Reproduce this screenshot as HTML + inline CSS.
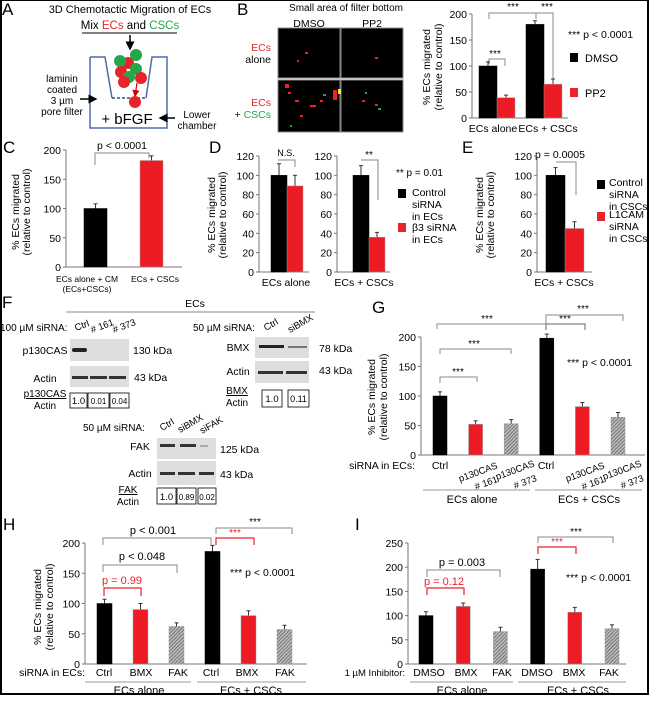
<!DOCTYPE html>
<html><head><meta charset="utf-8">
<style>
html,body{margin:0;padding:0;background:#fff;}
svg{display:block;font-family:"Liberation Sans",Arial,sans-serif;}
</style></head>
<body>
<svg id="fig" width="650" height="707" viewBox="0 0 650 707">
<defs>
<pattern id="hatch" width="2.5" height="2.5" patternUnits="userSpaceOnUse" patternTransform="rotate(45)">
<rect width="2.5" height="2.5" fill="#bbb"/><line x1="0" y1="0" x2="0" y2="2.5" stroke="#555" stroke-width="1.3"/>
</pattern>
<marker id="ah" markerWidth="6" markerHeight="6" refX="5" refY="3" orient="auto"><path d="M0,0 L6,3 L0,6 z" fill="#000"/></marker>
<marker id="ahr" markerWidth="6" markerHeight="6" refX="5" refY="3" orient="auto"><path d="M0,0 L6,3 L0,6 z" fill="#c00"/></marker>
</defs>
<rect x="1" y="0" width="647" height="694" fill="none" stroke="#000" stroke-width="2"/>

<!-- Panel A -->
<g font-size="11">
<text x="2" y="15" font-size="17">A</text>
<text x="130" y="13" text-anchor="middle" font-size="11">3D Chemotactic Migration of ECs</text>
<text x="130" y="29" text-anchor="middle" font-size="11.5">Mix <tspan fill="#e8232a">ECs</tspan> and <tspan fill="#22a84a">CSCs</tspan></text>
<line x1="82" y1="33" x2="177" y2="33" stroke="#000"/>
<line x1="130" y1="35" x2="130" y2="49" stroke="#000" stroke-width="1.5" marker-end="url(#ah)"/>
<path d="M90,57 L90,128 L167,128 L167,57 L152,57 L146,98 M112,98 L105,57 L90,57" fill="none" stroke="#4a6fa5" stroke-width="1.5"/>
<line x1="112" y1="98" x2="146" y2="98" stroke="#2a4f95" stroke-width="1.5" stroke-dasharray="3,2"/>
<circle cx="136" cy="55" r="6" fill="#22a84a"/><circle cx="128" cy="63" r="6" fill="#e8232a"/>
<circle cx="120" cy="61" r="6" fill="#22a84a"/><circle cx="136" cy="69" r="6" fill="#22a84a"/>
<circle cx="121" cy="72" r="6" fill="#e8232a"/><circle cx="129" cy="77" r="6" fill="#22a84a"/>
<circle cx="141" cy="78" r="6" fill="#e8232a"/><circle cx="124" cy="82" r="6" fill="#e8232a"/>
<line x1="137" y1="83" x2="135" y2="96" stroke="#c00" stroke-width="1.2" marker-end="url(#ahr)"/>
<circle cx="135" cy="102" r="6" fill="#e8232a"/>
<text x="62" y="82" text-anchor="middle" font-size="10">laminin</text>
<text x="62" y="93" text-anchor="middle" font-size="10">coated</text>
<text x="62" y="104" text-anchor="middle" font-size="10">3 µm</text>
<text x="62" y="115" text-anchor="middle" font-size="10">pore filter</text>
<line x1="80" y1="99" x2="96" y2="99" stroke="#000" stroke-width="1.5" marker-end="url(#ah)"/>
<text x="127" y="124" text-anchor="middle" font-size="15">+ bFGF</text>
<text x="197" y="118" text-anchor="middle" font-size="10">Lower</text>
<text x="197" y="129" text-anchor="middle" font-size="10">chamber</text>
<line x1="175" y1="118" x2="160" y2="118" stroke="#000" stroke-width="1.5" marker-end="url(#ah)"/>
</g>

<!-- Panel B images -->
<g>
<text x="237" y="15" font-size="17">B</text>
<text x="346" y="11" text-anchor="middle" font-size="10">Small area of filter bottom</text>
<text x="309" y="27" text-anchor="middle" font-size="10.5">DMSO</text>
<text x="372" y="27" text-anchor="middle" font-size="10.5">PP2</text>
<text x="271" y="51" text-anchor="end" font-size="10.5" fill="#e8232a">ECs</text>
<text x="271" y="63" text-anchor="end" font-size="10.5">alone</text>
<text x="271" y="106" text-anchor="end" font-size="10.5" fill="#e8232a">ECs</text>
<text x="271" y="118" text-anchor="end" font-size="10.5">+ <tspan fill="#22a84a">CSCs</tspan></text>
<rect x="278" y="28" width="62" height="50" fill="#000" stroke="#888"/>
<rect x="341" y="28" width="62" height="50" fill="#000" stroke="#888"/>
<rect x="278" y="80" width="62" height="52" fill="#000" stroke="#888"/>
<rect x="341" y="80" width="62" height="52" fill="#000" stroke="#888"/>
<g fill="#e8232a"><rect x="305" y="52" width="3" height="2"/><rect x="297" y="60" width="2" height="2"/><rect x="375" y="57" width="3" height="2"/>
<rect x="288" y="92" width="3" height="2"/><rect x="295" y="100" width="4" height="2"/><rect x="310" y="105" width="6" height="2"/><rect x="300" y="115" width="3" height="2"/><rect x="285" y="84" width="4" height="4"/><rect x="333" y="90" width="4" height="10"/><rect x="320" y="100" width="3" height="2"/><rect x="362" y="100" width="3" height="2"/><rect x="375" y="104" width="3" height="2"/></g>
<g fill="#22a84a"><rect x="290" y="125" width="2" height="2"/><rect x="323" y="94" width="3" height="2"/><rect x="365" y="92" width="2" height="2"/><rect x="378" y="108" width="3" height="2"/><rect x="338" y="89" width="3" height="5" fill="#ee3"/></g>
</g>

<!-- Panel B chart text -->
<g font-size="11">
<text x="430" y="67" transform="rotate(-90 430 67)" text-anchor="middle" font-size="10.5">% ECs migrated</text>
<text x="442" y="67" transform="rotate(-90 442 67)" text-anchor="middle" font-size="10.5">(relative to control)</text>
<text x="493" y="132" text-anchor="middle" font-size="10.5">ECs alone</text>
<text x="548" y="132" text-anchor="middle" font-size="10.5">ECs + CSCs</text>
<text x="568" y="38" font-size="10.5">*** p &lt; 0.0001</text>
<rect x="570" y="53" width="8" height="9" fill="#000"/>
<text x="585" y="62" font-size="11">DMSO</text>
<rect x="570" y="88" width="8" height="9" fill="#e8232a"/>
<text x="585" y="97" font-size="11">PP2</text>
<path d="M489,19 V13 H536 V19" fill="none" stroke="#888"/><text x="513" y="10" text-anchor="middle" font-size="10">***</text>
<path d="M536,13 H553 V80" fill="none" stroke="#888"/><text x="547" y="10" text-anchor="middle" font-size="10">***</text>
<path d="M489,64 V59 H505 V66" fill="none" stroke="#888"/><text x="495" y="57" text-anchor="middle" font-size="10">***</text>
</g>

<!-- Panel C -->
<g font-size="10">
<text x="3" y="153" font-size="17">C</text>
<text x="19" y="212" transform="rotate(-90 19 212)" text-anchor="middle" font-size="10.5">% ECs migrated</text>
<text x="30" y="212" transform="rotate(-90 30 212)" text-anchor="middle" font-size="10.5">(relative to control)</text>
<text x="122" y="149" text-anchor="middle" font-size="10.5">p &lt; 0.0001</text>
<path d="M95,165 V153 H149 V158" fill="none" stroke="#888"/>
<text x="87" y="282" text-anchor="middle" font-size="8.5">ECs alone + CM</text>
<text x="87" y="292" text-anchor="middle" font-size="8.5">(ECs+CSCs)</text>
<text x="155" y="282" text-anchor="middle" font-size="8.5">ECs + CSCs</text>
</g>

<!-- Panel D -->
<g font-size="10">
<text x="209" y="153" font-size="17">D</text>
<text x="215" y="215" transform="rotate(-90 215 215)" text-anchor="middle" font-size="10.5">% ECs migrated</text>
<text x="226" y="215" transform="rotate(-90 226 215)" text-anchor="middle" font-size="10.5">(relative to control)</text>
<text x="286" y="156" text-anchor="middle" font-size="9">N.S.</text>
<path d="M278,160 H295 V167" fill="none" stroke="#888"/>
<text x="369" y="158" text-anchor="middle" font-size="10">**</text>
<path d="M361,160 H378 V200" fill="none" stroke="#888"/>
<text x="286" y="286" text-anchor="middle" font-size="10.5">ECs alone</text>
<text x="364" y="286" text-anchor="middle" font-size="10.5">ECs + CSCs</text>
<text x="396" y="176" font-size="10">** p = 0.01</text>
<rect x="398" y="189" width="8" height="9" fill="#000"/>
<text x="412" y="196" font-size="10.5">Control</text><text x="412" y="208" font-size="10.5">siRNA</text><text x="412" y="220" font-size="10.5">in ECs</text>
<rect x="398" y="223" width="8" height="9" fill="#e8232a"/>
<text x="412" y="231" font-size="10.5">β3 siRNA</text><text x="412" y="243" font-size="10.5">in ECs</text>
</g>

<!-- Panel E -->
<g font-size="10">
<text x="462" y="153" font-size="17">E</text>
<text x="483" y="215" transform="rotate(-90 483 215)" text-anchor="middle" font-size="10.5">% ECs migrated</text>
<text x="494" y="215" transform="rotate(-90 494 215)" text-anchor="middle" font-size="10.5">(relative to control)</text>
<text x="560" y="158" text-anchor="middle" font-size="10.5">p = 0.0005</text>
<path d="M556,162 H576 V195" fill="none" stroke="#888"/>
<text x="564" y="286" text-anchor="middle" font-size="10.5">ECs + CSCs</text>
<rect x="597" y="180" width="8" height="9" fill="#000"/>
<text x="609" y="186" font-size="10.5">Control</text><text x="609" y="198" font-size="10.5">siRNA</text><text x="609" y="210" font-size="10.5">in CSCs</text>
<rect x="597" y="212" width="8" height="9" fill="#e8232a"/>
<text x="609" y="218" font-size="10.5">L1CAM</text><text x="609" y="230" font-size="10.5">siRNA</text><text x="609" y="242" font-size="10.5">in CSCs</text>
</g>

<!-- Panel F blots -->
<g font-size="10">
<text x="2" y="308" font-size="17">F</text>
<text x="195" y="307" text-anchor="middle" font-size="10.5">ECs</text>
<line x1="66" y1="312" x2="315" y2="312" stroke="#888"/>
<text x="0" y="331" font-size="10">100 µM siRNA:</text>
<text x="76" y="331" font-size="9.5" transform="rotate(-20 76 331)">Ctrl</text>
<text x="92" y="333" font-size="9.5" transform="rotate(-20 92 333)"># 161</text>
<text x="114" y="333" font-size="9.5" transform="rotate(-20 114 333)"># 373</text>
<rect x="70" y="339" width="59" height="22" fill="#dedede"/>
<rect x="72" y="348" width="15" height="4" fill="#222" rx="2"/>
<text x="45" y="354" text-anchor="middle" font-size="10.5">p130CAS</text><text x="133" y="354" font-size="10.5">130 kDa</text>
<rect x="70" y="366" width="59" height="21" fill="#dedede"/>
<rect x="72" y="376" width="16" height="3" fill="#333"/><rect x="90" y="376" width="17" height="3" fill="#333"/><rect x="109" y="376" width="17" height="3" fill="#333"/>
<text x="45" y="382" text-anchor="middle" font-size="10.5">Actin</text><text x="134" y="381" font-size="10.5">43 kDa</text>
<text x="45" y="397" text-anchor="middle" font-size="10" text-decoration="underline">p130CAS</text><text x="45" y="409" text-anchor="middle" font-size="10">Actin</text>
<rect x="70" y="393" width="17" height="15" fill="none" stroke="#000" stroke-width="0.8"/><text x="78.5" y="404" text-anchor="middle" font-size="9.5">1.0</text>
<rect x="88" y="393" width="21" height="15" fill="none" stroke="#000" stroke-width="0.8"/><text x="98.5" y="404" text-anchor="middle" font-size="8">0.01</text>
<rect x="110" y="393" width="19" height="15" fill="none" stroke="#000" stroke-width="0.8"/><text x="119.5" y="404" text-anchor="middle" font-size="8">0.04</text>

<text x="193" y="331" font-size="10">50 µM siRNA:</text>
<text x="266" y="331" font-size="9.5" transform="rotate(-30 266 331)">Ctrl</text>
<text x="290" y="333" font-size="9.5" transform="rotate(-30 290 333)">siBMX</text>
<rect x="255" y="337" width="54" height="21" fill="#dedede"/>
<rect x="259" y="345" width="25" height="3" fill="#222"/><rect x="288" y="346" width="19" height="2" fill="#777"/>
<text x="238" y="351" text-anchor="middle" font-size="10.5">BMX</text><text x="319" y="352" font-size="10.5">78 kDa</text>
<rect x="255" y="361" width="54" height="22" fill="#dedede"/>
<rect x="258" y="371" width="25" height="3" fill="#333"/><rect x="286" y="371" width="21" height="3" fill="#333"/>
<text x="238" y="375" text-anchor="middle" font-size="10.5">Actin</text><text x="319" y="374" font-size="10.5">43 kDa</text>
<text x="237" y="394" text-anchor="middle" font-size="10" text-decoration="underline">BMX</text><text x="237" y="406" text-anchor="middle" font-size="10">Actin</text>
<rect x="262" y="390" width="20" height="17" fill="none" stroke="#000" stroke-width="0.8"/><text x="272" y="402" text-anchor="middle" font-size="9.5">1.0</text>
<rect x="288" y="390" width="21" height="17" fill="none" stroke="#000" stroke-width="0.8"/><text x="298.5" y="402" text-anchor="middle" font-size="9">0.11</text>

<text x="83" y="431" font-size="10">50 µM siRNA:</text>
<text x="162" y="431" font-size="9.5" transform="rotate(-30 162 431)">Ctrl</text>
<text x="180" y="433" font-size="9.5" transform="rotate(-30 180 433)">siBMX</text>
<text x="202" y="434" font-size="9.5" transform="rotate(-30 202 434)">siFAK</text>
<rect x="157" y="438" width="59" height="21" fill="#dedede"/>
<rect x="160" y="444" width="15" height="3" fill="#333"/><rect x="180" y="444" width="16" height="3" fill="#333"/><rect x="200" y="445" width="8" height="2" fill="#aaa"/>
<text x="140" y="450" text-anchor="middle" font-size="10.5">FAK</text><text x="220" y="453" font-size="10.5">125 kDa</text>
<rect x="157" y="461" width="59" height="24" fill="#dedede"/>
<rect x="160" y="472" width="15" height="3" fill="#333"/><rect x="178" y="472" width="17" height="3" fill="#333"/><rect x="199" y="472" width="15" height="3" fill="#333"/>
<text x="140" y="477" text-anchor="middle" font-size="10.5">Actin</text><text x="220" y="478" font-size="10.5">43 kDa</text>
<text x="128" y="493" text-anchor="middle" font-size="10" text-decoration="underline">FAK</text><text x="128" y="505" text-anchor="middle" font-size="10">Actin</text>
<rect x="157" y="488" width="19" height="16" fill="none" stroke="#000" stroke-width="0.8"/><text x="166.5" y="500" text-anchor="middle" font-size="9.5">1.0</text>
<rect x="177" y="488" width="19" height="16" fill="none" stroke="#000" stroke-width="0.8"/><text x="186.5" y="500" text-anchor="middle" font-size="8">0.89</text>
<rect x="198" y="488" width="18" height="16" fill="none" stroke="#000" stroke-width="0.8"/><text x="207" y="500" text-anchor="middle" font-size="8">0.02</text>
</g>

<!-- Panel G annotations -->
<g font-size="10">
<text x="372" y="313" font-size="17">G</text>
<text x="375" y="397" transform="rotate(-90 375 397)" text-anchor="middle" font-size="10.5">% ECs migrated</text>
<text x="387" y="397" transform="rotate(-90 387 397)" text-anchor="middle" font-size="10.5">(relative to control)</text>
<text x="567" y="366" font-size="10.5">*** p &lt; 0.0001</text>
<path d="M440,383 V377 H477 V382" fill="none" stroke="#888"/><text x="458" y="375" text-anchor="middle">***</text>
<path d="M440,354 V349 H511 V354" fill="none" stroke="#888"/><text x="474" y="347" text-anchor="middle">***</text>
<path d="M437,329 V324 H546 V330" fill="none" stroke="#888"/><text x="487" y="322" text-anchor="middle">***</text>
<path d="M546,330 V324 H585 V330" fill="none" stroke="#666"/><text x="565" y="322" text-anchor="middle">***</text>
<path d="M546,324 V315 H623 V321" fill="none" stroke="#888"/><text x="583" y="312" text-anchor="middle">***</text>
<text x="415" y="469" text-anchor="end" font-size="10.5">siRNA in ECs:</text>
<text x="440" y="469" text-anchor="middle" font-size="10.5">Ctrl</text>
<text x="546" y="469" text-anchor="middle" font-size="10.5">Ctrl</text>
<text x="460" y="482" font-size="9.5" transform="rotate(-20 460 482)">p130CAS</text>
<text x="476" y="490" font-size="9.5" transform="rotate(-20 476 490)"># 161</text>
<text x="497" y="480" font-size="9.5" transform="rotate(-20 497 480)">p130CAS</text>
<text x="515" y="489" font-size="9.5" transform="rotate(-20 515 489)"># 373</text>
<text x="567" y="482" font-size="9.5" transform="rotate(-20 567 482)">p130CAS</text>
<text x="583" y="490" font-size="9.5" transform="rotate(-20 583 490)"># 161</text>
<text x="604" y="480" font-size="9.5" transform="rotate(-20 604 480)">p130CAS</text>
<text x="622" y="489" font-size="9.5" transform="rotate(-20 622 489)"># 373</text>
<line x1="423" y1="490" x2="530" y2="490" stroke="#999"/><line x1="535" y1="490" x2="642" y2="490" stroke="#999"/>
<text x="472" y="503" text-anchor="middle" font-size="11">ECs alone</text>
<text x="589" y="503" text-anchor="middle" font-size="11">ECs + CSCs</text>
</g>

<!-- Panel H annotations -->
<g font-size="10">
<text x="3" y="530" font-size="17">H</text>
<text x="41" y="607" transform="rotate(-90 41 607)" text-anchor="middle" font-size="10.5">% ECs migrated</text>
<text x="53" y="607" transform="rotate(-90 53 607)" text-anchor="middle" font-size="10.5">(relative to control)</text>
<text x="122" y="584" text-anchor="middle" font-size="11" fill="#e8232a">p = 0.99</text>
<path d="M104,596 V588 H141 V596" fill="none" stroke="#e8232a" stroke-width="1.2"/>
<text x="142" y="560" text-anchor="middle" font-size="11">p &lt; 0.048</text>
<path d="M103,572 V565 H177 V573" fill="none" stroke="#888"/>
<text x="153" y="534" text-anchor="middle" font-size="11">p &lt; 0.001</text>
<path d="M103,545 V538 H211 V545" fill="none" stroke="#888"/>
<text x="235" y="536" text-anchor="middle" fill="#e8232a">***</text>
<path d="M216,545 V538 H254 V545" fill="none" stroke="#e8232a" stroke-width="1.2"/>
<text x="255" y="525" text-anchor="middle">***</text>
<path d="M216,534 V528 H292 V534" fill="none" stroke="#888"/>
<text x="230" y="576" font-size="10.5">*** p &lt; 0.0001</text>
<text x="85" y="676" text-anchor="end" font-size="10.5">siRNA in ECs:</text>
<text x="104" y="676" text-anchor="middle" font-size="10.5">Ctrl</text>
<text x="141" y="676" text-anchor="middle" font-size="10.5">BMX</text>
<text x="178" y="676" text-anchor="middle" font-size="10.5">FAK</text>
<text x="211" y="676" text-anchor="middle" font-size="10.5">Ctrl</text>
<text x="247" y="676" text-anchor="middle" font-size="10.5">BMX</text>
<text x="285" y="676" text-anchor="middle" font-size="10.5">FAK</text>
<line x1="85" y1="682" x2="191" y2="682" stroke="#999"/><line x1="197" y1="682" x2="306" y2="682" stroke="#999"/>
<text x="139" y="694" text-anchor="middle" font-size="11">ECs alone</text>
<text x="251" y="694" text-anchor="middle" font-size="11">ECs + CSCs</text>
</g>

<!-- Panel I annotations -->
<g font-size="10">
<text x="355" y="530" font-size="17">I</text>
<text x="444" y="585" text-anchor="middle" font-size="11" fill="#e8232a">p = 0.12</text>
<path d="M427,595 V588 H464 V595" fill="none" stroke="#e8232a" stroke-width="1.2"/>
<text x="462" y="566" text-anchor="middle" font-size="11">p = 0.003</text>
<path d="M427,577 V570 H500 V577" fill="none" stroke="#888"/>
<text x="557" y="545" text-anchor="middle" fill="#e8232a">***</text>
<path d="M538,554 V547 H576 V554" fill="none" stroke="#e8232a" stroke-width="1.2"/>
<text x="576" y="535" text-anchor="middle">***</text>
<path d="M538,543 V537 H613 V543" fill="none" stroke="#888"/>
<text x="566" y="581" font-size="10.5">*** p &lt; 0.0001</text>
<text x="405" y="676" text-anchor="end" font-size="9.5">1 µM Inhibitor:</text>
<text x="429" y="676" text-anchor="middle" font-size="10.5">DMSO</text>
<text x="466" y="676" text-anchor="middle" font-size="10.5">BMX</text>
<text x="502" y="676" text-anchor="middle" font-size="10.5">FAK</text>
<text x="537" y="676" text-anchor="middle" font-size="10.5">DMSO</text>
<text x="574" y="676" text-anchor="middle" font-size="10.5">BMX</text>
<text x="609" y="676" text-anchor="middle" font-size="10.5">FAK</text>
<line x1="410" y1="682" x2="513" y2="682" stroke="#999"/><line x1="518" y1="682" x2="626" y2="682" stroke="#999"/>
<text x="462" y="694" text-anchor="middle" font-size="11">ECs alone</text>
<text x="578" y="694" text-anchor="middle" font-size="11">ECs + CSCs</text>
</g>
</svg>

<script>
// ---- data ----
const B_values = [100, 39, 180, 65];
const B_errors = [8, 5, 7, 10];
const B_ticks = [0, 50, 100, 150, 200];
const C_values = [100, 182];
const C_errors = [8, 8];
const C_ticks = [0, 50, 100, 150, 200];
const D1_values = [100, 89];
const D1_errors = [12, 11];
const D2_values = [100, 36];
const D2_errors = [10, 5];
const D_ticks = [0, 20, 40, 60, 80, 100, 120];
const E_values = [100, 45];
const E_errors = [8, 7];
const G_values = [100, 52, 53, 198, 82, 64];
const G_errors = [7, 6, 7, 7, 7, 8];
const G_ticks = [0, 50, 100, 150, 200];
const H_values = [100, 90, 62, 186, 80, 57];
const H_errors = [7, 10, 6, 10, 8, 7];
const H_ticks = [0, 50, 100, 150, 200];
const I_values = [100, 119, 67, 196, 107, 73];
const I_errors = [8, 7, 9, 20, 10, 8];
const I_ticks = [0, 50, 100, 150, 200, 250];

const NS = 'http://www.w3.org/2000/svg';
const svg = document.getElementById('fig');
const RED = '#ed1c24';
function mk(tag, attrs, parent) {
  const e = document.createElementNS(NS, tag);
  for (const k in attrs) e.setAttribute(k, attrs[k]);
  parent.appendChild(e);
  return e;
}

function chart(name, values, errors, ticks, cfg) {
  const g = mk('g', {}, svg);
  
  
  const vmax = ticks[ticks.length - 1];
  const y = v => cfg.y0 - v / vmax * (cfg.y0 - cfg.yTop);
  const ax = mk('line', {x1: cfg.ax, y1: y(vmax), x2: cfg.ax, y2: cfg.y0, stroke: '#777'}, g);
  
  
  const xa = mk('line', {x1: cfg.ax, y1: cfg.y0, x2: cfg.xEnd, y2: cfg.y0, stroke: '#777'}, g);
  
  
  ticks.forEach(t => {
    mk('line', {x1: cfg.ax - 3, y1: y(t), x2: cfg.ax, y2: y(t), stroke: '#777'}, g);
    const tl = mk('text', {x: cfg.ax - 5, y: y(t) + 4, 'text-anchor': 'end', 'font-size': 10.5}, g);
    tl.textContent = t;
    
    
  });
  values.forEach((v, i) => {
    const x = cfg.xOf(i);
    const cx = x + cfg.w / 2;
    const top = y(v + errors[i]);
    mk('line', {x1: cx, y1: y(v), x2: cx, y2: top, stroke: '#333', 'stroke-width': 1}, g);
    mk('line', {x1: cx - 2, y1: top, x2: cx + 2, y2: top, stroke: '#333', 'stroke-width': 1}, g);
    const b = mk('rect', {x: x, y: y(v), width: cfg.w, height: cfg.y0 - y(v), fill: cfg.fills[i], stroke: cfg.fills[i] === '#000' ? '#000' : '#999', 'stroke-width': 0.5}, g);
    
    
  });
}

chart('chart-b', B_values, B_errors, B_ticks, {ax: 472, y0: 118, yTop: 14, xEnd: 568, w: 18,
  xOf: i => 479 + Math.floor(i / 2) * 47 + (i % 2) * 18, fills: ['#000', RED, '#000', RED]});
chart('chart-c', C_values, C_errors, C_ticks, {ax: 66, y0: 267, yTop: 150, xEnd: 182, w: 23,
  xOf: i => 84 + i * 56, fills: ['#000', RED]});
chart('chart-d-alone', D1_values, D1_errors, D_ticks, {ax: 259, y0: 272, yTop: 156, xEnd: 309, w: 16,
  xOf: i => 271 + i * 16, fills: ['#000', RED]});
chart('chart-d-cscs', D2_values, D2_errors, D_ticks, {ax: 337, y0: 272, yTop: 156, xEnd: 390, w: 16,
  xOf: i => 353 + i * 16, fills: ['#000', RED]});
chart('chart-e', E_values, E_errors, D_ticks, {ax: 537, y0: 272, yTop: 156, xEnd: 592, w: 19,
  xOf: i => 546 + i * 19, fills: ['#000', RED]});
chart('chart-g', G_values, G_errors, G_ticks, {ax: 421, y0: 455, yTop: 337, xEnd: 645, w: 14,
  xOf: i => 433 + i * 35.6, fills: ['#000', RED, 'url(#hatch)', '#000', RED, 'url(#hatch)']});
chart('chart-h', H_values, H_errors, H_ticks, {ax: 85, y0: 664, yTop: 543, xEnd: 307, w: 15,
  xOf: i => 97 + i * 36, fills: ['#000', RED, 'url(#hatch)', '#000', RED, 'url(#hatch)']});
chart('chart-i', I_values, I_errors, I_ticks, {ax: 408, y0: 664, yTop: 543, xEnd: 626, w: 14,
  xOf: i => 419 + i * 37.2, fills: ['#000', RED, 'url(#hatch)', '#000', RED, 'url(#hatch)']});
</script>
</body></html>
